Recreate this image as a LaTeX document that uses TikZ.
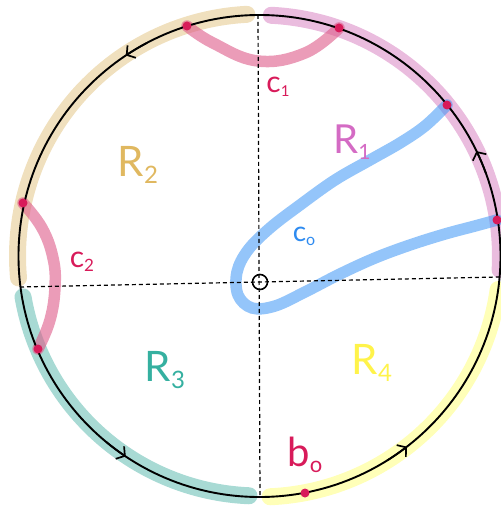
\documentclass[tikz,border=0pt]{standalone}
\usepackage{fontspec}
\setmainfont{Lato}
\usetikzlibrary{arrows.meta}
\definecolor{bandbeige}{HTML}{F0E0BE}
\definecolor{bandpink}{HTML}{EABCDE}
\definecolor{bandteal}{HTML}{A8DAD4}
\definecolor{bandyellow}{HTML}{FFFFB8}
\definecolor{curvered}{HTML}{DD5A88}
\definecolor{curveblue}{HTML}{3D95F5}
\definecolor{dotred}{HTML}{D81B5A}
\definecolor{labR1}{HTML}{D46BC4}
\definecolor{labR2}{HTML}{E0B860}
\definecolor{labR3}{HTML}{35B0A0}
\definecolor{labR4}{HTML}{FFF34A}
\definecolor{labc0}{HTML}{2E8BF0}
\newcommand{\mylab}[4]{{\fontsize{#1}{#1}\selectfont #3\raisebox{-0.15em}{\fontsize{#2}{#2}\selectfont #4}}}
\tikzset{
  band/.style={line width=17pt, line cap=round},
  curve/.style={line width=11.5pt, line cap=round, opacity=0.6, color=curvered},
  bluecurve/.style={line width=11.5pt, line cap=round, opacity=0.55, color=curveblue},
  bound/.style={line width=1.9pt, draw=black},
  dashline/.style={line width=1.2pt, dash pattern=on 4pt off 3pt},
  chev/.style={line width=1.7pt, -{Straight Barb[length=6pt,width=15pt]}},
  dotnode/.style={circle, fill=dotred, minimum size=9pt, inner sep=0pt},
  lab/.style={inner sep=0pt, anchor=center}
}
\begin{document}
\begin{tikzpicture}[x=1pt,y=-1pt]
\useasboundingbox (0,0) rectangle (500,510);
\coordinate (C) at (259.5,256);
% coloured boundary bands
\draw[band, bandbeige] (C) ++(-93:242) arc[start angle=-93, end angle=-185.2, radius=242];
\draw[band, bandpink] (C) ++(-87.2:241) arc[start angle=-87.2, end angle=3.3, radius=241];
\draw[band, bandteal] (C) ++(-189.8:240) arc[start angle=-189.8, end angle=-267.5, radius=240];
\draw[band, bandyellow] (C) ++(-272.5:241) arc[start angle=-272.5, end angle=-352, radius=241];
% points on boundary
\coordinate (p1) at (187,26);
\coordinate (p2) at (339,28);
\coordinate (p3) at (447,105);
\coordinate (p4) at (497,220);
\coordinate (p5) at (23,203);
\coordinate (p6) at (38,349);
\coordinate (p7) at (305,493);
% curves c1, c2
\draw[curve] plot[smooth, tension=0.7] coordinates {(p1) (213,43) (258,61) (305,53) (p2)};
\draw[curve] plot[smooth, tension=0.7] coordinates {(p5) (42,228) (53,258) (55,287) (50,320) (p6)};
% curve c0
\draw[bluecurve] plot[smooth, tension=0.6] coordinates {(p3) (425,126) (400,143) (370,160) (335,180) (300,205) (270,228) (248,250) (237,272) (238,295) (252,308) (275,306) (305,292) (340,274) (375,258) (410,245) (445,234) (475,226) (p4)};
% boundary circle
\draw[bound] (C) circle[radius=241];
% orientation arrows
\draw[chev] (C) ++(-118:241) arc[start angle=-118, end angle=-123.7, radius=241];
\draw[chev] (C) ++(-20:241) arc[start angle=-20, end angle=-25.8, radius=241];
\draw[chev] (C) ++(-230.5:241) arc[start angle=-230.5, end angle=-236.3, radius=241];
\draw[chev] (C) ++(-302:241) arc[start angle=-302, end angle=-307.7, radius=241];
% dashed axes
\coordinate (T) at (258,15);
\coordinate (B) at (260,497);
\coordinate (L) at (20,287);
\coordinate (Rt) at (499,277);
\draw[dashline] (T) -- (B);
\draw[dashline] (L) -- (Rt);
\node[circle, draw, line width=1.6pt, minimum size=15pt, inner sep=0pt] (O) at (260,282) {};
% dots
\foreach \p in {p1,p2,p3,p4,p5,p6,p7} \node[dotnode] at (\p) {};
% labels
\node[lab, text=dotred] (lc1) at (278,87) {\mylab{30}{15}{c}{1}};
\node[lab, text=labR1] (lR1) at (352,142) {\mylab{40}{21}{R}{1}};
\node[lab, text=labR2] (lR2) at (138,165) {\mylab{42}{24}{R}{2}};
\node[lab, text=dotred] (lc2) at (82,262) {\mylab{30}{17}{c}{2}};
\node[lab, text=labc0] (lc0) at (304,236) {\mylab{28}{16}{c}{o}};
\node[lab, text=labR3] (lR3) at (165,370) {\mylab{42}{24}{R}{3}};
\node[lab, text=labR4] (lR4) at (372,363) {\mylab{42}{24}{R}{4}};
\node[lab, text=dotred] (lb0) at (305,455) {\mylab{40}{22}{b}{o}};
\end{tikzpicture}
\end{document}
